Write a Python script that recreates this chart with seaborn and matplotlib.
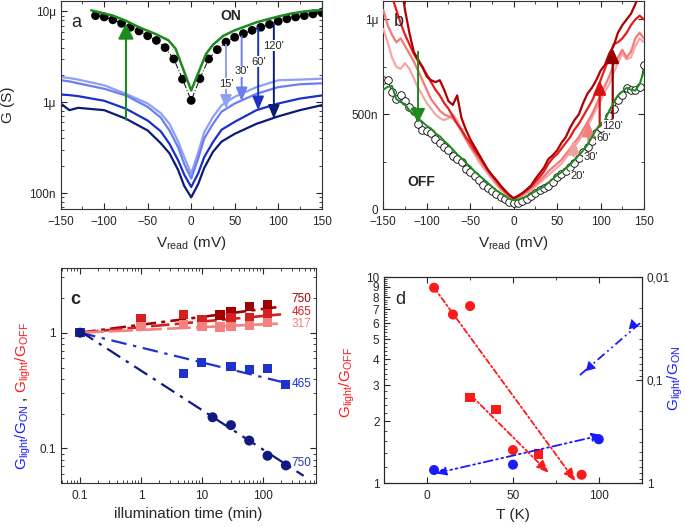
import numpy as np
import matplotlib
matplotlib.use("Agg")
import matplotlib.pyplot as plt
import matplotlib.ticker as mticker
import seaborn as sns

# ---------------- panel a : G(V), log scale, values in uS ----------------
v_on_dots = [-110, -100, -90, -80, -70, -60, -50, -40, -30, -20, -10, 0, 10, 20,
             30, 40, 50, 60, 70, 80, 90, 100, 110, 120, 130, 140, 150]
g_on_dots = [9.0, 8.7, 8.1, 7.4, 6.7, 6.1, 5.4, 4.8, 4.0, 3.0, 1.8, 1.05, 1.82, 3.0,
             3.8, 4.6, 5.2, 5.7, 6.2, 6.7, 7.2, 7.8, 8.3, 8.7, 9.0, 9.4, 9.8]
v_on_line = [-115, -100, -90, -75, -60, -40, -26, -18, 0, 17, 25, 37, 50, 75, 100, 113, 130, 150]
g_on_line = [10.3, 9.5, 9.0, 7.9, 6.7, 5.6, 4.8, 3.9, 1.35, 3.4, 4.3, 5.4, 6.2, 7.6, 8.8, 9.4, 10.0, 10.4]

v_a = [-150, -140, -130, -100, -75, -50, -35, -25, -15, -8, 0, 8, 15, 25, 35, 50, 75, 100, 125, 150]
g_a_15 = [1.9, 1.85, 1.78, 1.54, 1.24, 0.97, 0.76, 0.58, 0.37, 0.25, 0.164, 0.28, 0.47, 0.69, 0.93, 1.15, 1.47, 1.75, 1.78, 1.82]
g_a_30 = [1.75, 1.7, 1.62, 1.41, 1.19, 0.89, 0.68, 0.49, 0.32, 0.21, 0.145, 0.24, 0.40, 0.58, 0.79, 0.97, 1.24, 1.47, 1.58, 1.62]
g_a_60 = [1.22, 1.2, 1.17, 1.04, 0.85, 0.63, 0.48, 0.35, 0.23, 0.16, 0.117, 0.165, 0.25, 0.365, 0.50, 0.61, 0.82, 0.97, 1.1, 1.19]
g_a_120 = [0.97, 0.82, 0.87, 0.82, 0.66, 0.49, 0.355, 0.275, 0.18, 0.12, 0.090, 0.126, 0.19, 0.285, 0.37, 0.45, 0.58, 0.70, 0.82, 0.93]
a_times = ["15'", "30'", "60'", "120'"]
a_arrow_v = [40, 58, 77, 95]
a_arrow_from = [4.3, 5.3, 6.6, 7.3]
a_arrow_to = [0.85, 1.03, 0.82, 0.66]
a_label_g = [1.6, 2.2, 2.8, 4.2]

# ---------------- panel b : G(V), linear scale, values in uS ----------------
v_b = list(range(-150, 155, 5))
g_b_off = [0.68, 0.68, 0.62, 0.58, 0.60, 0.57, 0.54, 0.52, 0.45, 0.42,
           0.41, 0.40, 0.37, 0.35, 0.33, 0.31, 0.28, 0.265, 0.25, 0.21,
           0.195, 0.175, 0.155, 0.13, 0.11, 0.095, 0.078, 0.065, 0.052, 0.04,
           0.032,
           0.033, 0.042, 0.055, 0.072, 0.088, 0.10, 0.112, 0.125, 0.145, 0.17,
           0.185, 0.20, 0.222, 0.245, 0.27, 0.30, 0.33, 0.36, 0.40, 0.43,
           0.45, 0.49, 0.53, 0.575, 0.60, 0.64, 0.63, 0.63, 0.645, 0.76]
g_b_green = [0.63, 0.645, 0.65, 0.58, 0.565, 0.555, 0.52, 0.50, 0.48, 0.46,
             0.44, 0.425, 0.40, 0.385, 0.36, 0.34, 0.315, 0.29, 0.27, 0.245,
             0.225, 0.20, 0.18, 0.16, 0.14, 0.12, 0.10, 0.085, 0.07, 0.055,
             0.048,
             0.05, 0.058, 0.068, 0.082, 0.095, 0.108, 0.12, 0.14, 0.16, 0.18,
             0.195, 0.215, 0.235, 0.26, 0.285, 0.31, 0.34, 0.38, 0.42, 0.45,
             0.47, 0.52, 0.56, 0.60, 0.62, 0.64, 0.63, 0.625, 0.66, 0.73]
g_b_20 = [0.95, 0.88, 0.80, 0.75, 0.74, 0.77, 0.74, 0.69, 0.64, 0.60,
          0.56, 0.53, 0.50, 0.48, 0.47, 0.48, 0.50, 0.47, 0.42, 0.37,
          0.33, 0.29, 0.25, 0.22, 0.19, 0.16, 0.13, 0.105, 0.085, 0.065,
          0.05,
          0.058, 0.07, 0.085, 0.10, 0.12, 0.14, 0.16, 0.18, 0.20, 0.22,
          0.24, 0.27, 0.30, 0.33, 0.36, 0.40, 0.44, 0.48, 0.53, 0.57,
          0.62, 0.66, 0.72, 0.77, 0.82, 0.79, 0.80, 0.86, 0.90, 0.88]
g_b_30 = [1.05, 0.97, 0.92, 0.88, 0.90, 0.86, 0.82, 0.78, 0.73, 0.68,
          0.63, 0.58, 0.55, 0.52, 0.50, 0.49, 0.48, 0.45, 0.41, 0.37,
          0.33, 0.30, 0.27, 0.23, 0.20, 0.17, 0.14, 0.11, 0.09, 0.07,
          0.055,
          0.062, 0.075, 0.09, 0.11, 0.13, 0.15, 0.175, 0.20, 0.22, 0.24,
          0.26, 0.29, 0.32, 0.35, 0.38, 0.42, 0.46, 0.50, 0.55, 0.60,
          0.65, 0.70, 0.76, 0.80, 0.84, 0.80, 0.83, 0.90, 0.93, 0.90]
g_b_60 = [1.30, 1.20, 1.12, 1.05, 0.98, 0.92, 0.87, 0.82, 0.78, 0.75,
          0.71, 0.67, 0.63, 0.60, 0.56, 0.53, 0.49, 0.45, 0.42, 0.38,
          0.35, 0.31, 0.28, 0.245, 0.21, 0.18, 0.15, 0.12, 0.095, 0.075,
          0.058,
          0.07, 0.085, 0.10, 0.12, 0.145, 0.17, 0.20, 0.24, 0.27, 0.29,
          0.32, 0.35, 0.38, 0.42, 0.45, 0.49, 0.53, 0.57, 0.62, 0.68,
          0.74, 0.80, 0.87, 0.88, 0.90, 0.93, 0.97, 1.00, 1.02, 1.00]
g_b_120 = [1.60, 1.50, 1.40, 1.30, 1.20, 1.05, 0.93, 0.83, 0.79, 0.75,
           0.70, 0.68, 0.67, 0.68, 0.63, 0.57, 0.55, 0.60, 0.48, 0.42,
           0.37, 0.33, 0.29, 0.25, 0.21, 0.18, 0.155, 0.125, 0.10, 0.075,
           0.058,
           0.07, 0.085, 0.105, 0.125, 0.16, 0.19, 0.22, 0.265, 0.285, 0.31,
           0.35, 0.38, 0.43, 0.47, 0.50, 0.56, 0.61, 0.64, 0.68, 0.73,
           0.76, 0.82, 0.86, 0.93, 0.97, 1.00, 1.03, 1.08, 1.15, 1.20]
b_times = ["20'", "30'", "60'", "120'"]
b_arrow_v = [69, 86, 99, 114]
b_arrow_from = [0.277, 0.347, 0.435, 0.479]
b_arrow_to = [0.365, 0.461, 0.68, 0.847]
b_label_v = [65, 80, 95, 102]
b_label_g = [0.175, 0.275, 0.375, 0.44]

# ---------------- panel c : ratio vs illumination time ----------------
t_r750 = [20, 30, 60, 120]
r_r750 = [1.42, 1.53, 1.68, 1.73]
t_r465 = [1, 5, 10, 30, 60, 120]
r_r465 = [1.33, 1.44, 1.30, 1.35, 1.35, 1.47]
t_r317 = [0.1, 1, 5, 10, 20, 30, 60, 120]
r_r317 = [1.0, 1.13, 1.18, 1.13, 1.12, 1.13, 1.15, 1.22]
t_b465 = [0.1, 5, 10, 30, 60, 120, 240]
r_b465 = [1.0, 0.446, 0.55, 0.51, 0.48, 0.49, 0.358]
t_b750 = [0.1, 15, 30, 60, 120, 240]
r_b750 = [1.0, 0.186, 0.159, 0.117, 0.0865, 0.0714]
fit_t = [0.1, 200]
fit_r750 = [1.0, 1.68]
fit_r465 = [1.0, 1.44]
fit_r317 = [1.0, 1.20]
fit_b465 = [1.0, 0.377]
fit_t_b750 = [0.1, 470]
fit_b750 = [1.03, 0.058]

# ---------------- panel d : ratio vs temperature ----------------
T_red_circ = [4, 15, 25, 50, 90]
v_red_circ = [8.9, 6.6, 7.25, 1.45, 1.10]
T_red_sq = [25, 40, 65]
v_red_sq = [2.61, 2.28, 1.39]
T_blue_circ = [4, 50, 100]
v_blue_circ = [0.743, 0.659, 0.374]
T_blue_tri = [95, 120]
v_blue_tri = [0.0738, 0.029]
T_tri_line = [89, 125]
v_tri_line = [0.089, 0.027]

# ---------------- style ----------------
sns.set_style("ticks")
plt.rcParams["font.family"] = ["Liberation Sans", "DejaVu Sans"]
plt.rcParams["mathtext.fontset"] = "custom"
plt.rcParams["mathtext.rm"] = "Liberation Sans"
plt.rcParams["mathtext.it"] = "Liberation Sans:italic"
plt.rcParams["mathtext.bf"] = "Liberation Sans:bold"
plt.rcParams["font.size"] = 8.5

green = "#1e8a1e"
blues_a = ["#8fa0f2", "#6a7ff0", "#1a30c8", "#0c1a78"]
reds_b = ["#f5a6a6", "#f27a7a", "#e81c1c", "#b00000"]
reds_b_arrow = ["#f5a0a0", "#f08080", "#d81010", "#900000"]
red_d = "#ff1a1a"
blue_d = "#1a1aff"

fig = plt.figure(figsize=(6.85, 5.27), dpi=100)
W, H = 685.0, 527.0


def box(l, t, r, b):
    return [l / W, 1 - b / H, (r - l) / W, (b - t) / H]


def frame(ax, right=True):
    ax.tick_params(which="both", direction="in", top=True, right=right, labelsize=8.5)
    ax.tick_params(which="major", length=4, width=0.8)
    ax.tick_params(which="minor", length=2, width=0.6)
    ax.tick_params(axis="x", pad=5)
    for s in ax.spines.values():
        s.set_visible(True)
        s.set_linewidth(0.8)
        s.set_color("#333333")


def arrow(ax, x0, y0, x1, y1, color, lw=1.4, hl=0.95, hw=0.4, ls="-", style="-|>"):
    ax.annotate("", xy=(x1, y1), xytext=(x0, y0),
                arrowprops=dict(arrowstyle=f"{style},head_length={hl},head_width={hw}",
                                color=color, lw=lw, linestyle=ls,
                                shrinkA=0, shrinkB=0))


# ================= panel a =================
axa = fig.add_axes(box(60.7, 0.5, 321.7, 209))
for g, c in zip([g_a_15, g_a_30, g_a_60, g_a_120], blues_a):
    sns.lineplot(x=v_a, y=np.array(g) * 1e-6, ax=axa, color=c, lw=1.6)
sns.lineplot(x=v_on_dots, y=np.array(g_on_dots) * 1e-6, ax=axa, color="black",
             lw=0.7, linestyle=(0, (6, 2, 1, 2)))
sns.scatterplot(x=v_on_dots, y=np.array(g_on_dots) * 1e-6, ax=axa, color="black",
                s=40, edgecolor="none", zorder=3)
sns.lineplot(x=v_on_line, y=np.array(g_on_line) * 1e-6, ax=axa, color=green, lw=1.8, zorder=4)
arrow(axa, -75, 0.645e-6, -75, 7.4e-6, green, lw=1.5, hl=1.1, hw=0.55)
for vv, g0, g1, c, lab, gl in zip(a_arrow_v, a_arrow_from, a_arrow_to, blues_a, a_times, a_label_g):
    arrow(axa, vv, g0 * 1e-6, vv, g1 * 1e-6, c)
    axa.text(vv, gl * 1e-6, lab, ha="center", va="center", fontsize=8,
             bbox=dict(facecolor="white", edgecolor="none", pad=0.3), zorder=5)
axa.set_yscale("log")
axa.set_xlim(-150, 150)
axa.set_ylim(6.7e-8, 1.32e-5)
axa.yaxis.set_major_locator(mticker.FixedLocator([1e-7, 1e-6, 1e-5]))
axa.yaxis.set_major_formatter(mticker.FixedFormatter(["100n", "1\u03bc", "10\u03bc"]))
axa.yaxis.set_minor_locator(mticker.LogLocator(subs=np.arange(2, 10)))
axa.yaxis.set_minor_formatter(mticker.NullFormatter())
axa.xaxis.set_major_locator(mticker.MultipleLocator(50))
axa.xaxis.set_minor_locator(mticker.MultipleLocator(25))
frame(axa)
axa.set_xlabel(r"V$_{\rm read}$ (mV)", fontsize=11, labelpad=4)
axa.set_ylabel("G (S)", fontsize=11)
axa.yaxis.set_label_coords(-0.175, 0.5)
axa.text(-132, 7.6e-6, "a", fontsize=13, ha="center", va="center")
axa.text(45, 9.0e-6, "ON", fontsize=10, fontweight="bold", ha="center", va="center")

# ================= panel b =================
axb = fig.add_axes(box(383.3, 0.5, 644, 209.3))
sns.lineplot(x=v_b, y=np.array(g_b_off) * 1e-6, ax=axb, color="black", lw=0.6)
sns.scatterplot(x=v_b, y=np.array(g_b_off) * 1e-6, ax=axb, facecolor="white",
                edgecolor="black", linewidth=0.6, s=30, zorder=2)
for g, c in zip([g_b_20, g_b_30, g_b_60, g_b_120], reds_b):
    sns.lineplot(x=v_b, y=np.array(g) * 1e-6, ax=axb, color=c, lw=1.6, zorder=3)
sns.lineplot(x=v_b, y=np.array(g_b_green) * 1e-6, ax=axb, color=green, lw=1.4, zorder=4)
arrow(axb, -110, 0.83e-6, -110, 0.455e-6, green, lw=1.4, hl=1.0, hw=0.5)
for vv, g0, g1, c in zip(b_arrow_v, b_arrow_from, b_arrow_to, reds_b_arrow):
    arrow(axb, vv, g0 * 1e-6, vv, g1 * 1e-6, c, lw=1.6, hl=1.0, hw=0.45)
for lab, vl, gl in zip(b_times, b_label_v, b_label_g):
    axb.text(vl, gl * 1e-6, lab, ha="left", va="center", fontsize=8,
             bbox=dict(facecolor="white", edgecolor="none", pad=0.2), zorder=5)
axb.set_xlim(-150, 150)
axb.set_ylim(0, 1.1e-6)
axb.yaxis.set_major_locator(mticker.FixedLocator([0, 5e-7, 1e-6]))
axb.yaxis.set_major_formatter(mticker.FixedFormatter(["0", "500n", "1\u03bc"]))
axb.yaxis.set_minor_locator(mticker.MultipleLocator(2.5e-7))
axb.xaxis.set_major_locator(mticker.MultipleLocator(50))
axb.xaxis.set_minor_locator(mticker.MultipleLocator(25))
frame(axb)
axb.set_xlabel(r"V$_{\rm read}$ (mV)", fontsize=11, labelpad=4)
axb.set_ylabel("")
axb.text(-131.6, 0.99e-6, "b", fontsize=13, ha="center", va="center")
axb.text(-106, 0.145e-6, "OFF", fontsize=10, fontweight="bold", ha="center", va="center")

# ================= panel c =================
axc = fig.add_axes(box(60.7, 268.3, 316, 482.7))
c_r = ["#a00000", "#d42020", "#f58080"]
for ft, fr, c, ls in [(fit_t, fit_r750, c_r[0], (0, (6, 2, 1.5, 2))),
                      (fit_t, fit_r465, c_r[1], (0, (7, 2))),
                      (fit_t, fit_r317, c_r[2], (0, (9, 2)))]:
    sns.lineplot(x=ft, y=fr, ax=axc, color=c, lw=1.9, linestyle=ls)
for tt, rr, c in [(t_r750, r_r750, c_r[0]), (t_r465, r_r465, c_r[1]), (t_r317, r_r317, c_r[2])]:
    sns.scatterplot(x=tt, y=rr, ax=axc, color=c, marker="s", s=46, edgecolor="none", zorder=3)
sns.lineplot(x=fit_t, y=fit_b465, ax=axc, color="#1e32d0", lw=1.6, linestyle=(0, (7, 3, 1.5, 3)))
sns.lineplot(x=fit_t_b750, y=fit_b750, ax=axc, color="#101a80", lw=1.6, linestyle=(0, (7, 3, 1.5, 3)))
sns.scatterplot(x=t_b465, y=r_b465, ax=axc, color="#1e32d0", marker="s", s=44, edgecolor="none", zorder=3)
sns.scatterplot(x=t_b750, y=r_b750, ax=axc, color="#101a80", marker="o", s=52, edgecolor="none", zorder=3)
axc.set_xscale("log")
axc.set_yscale("log")
axc.set_xlim(0.048, 750)
axc.set_ylim(0.0506, 3.6)
axc.xaxis.set_major_locator(mticker.FixedLocator([0.1, 1, 10, 100]))
axc.xaxis.set_major_formatter(mticker.FixedFormatter(["0.1", "1", "10", "100"]))
axc.xaxis.set_minor_locator(mticker.LogLocator(subs=np.arange(2, 10)))
axc.xaxis.set_minor_formatter(mticker.NullFormatter())
axc.yaxis.set_major_locator(mticker.FixedLocator([0.1, 1]))
axc.yaxis.set_major_formatter(mticker.FixedFormatter(["0.1", "1"]))
axc.yaxis.set_minor_locator(mticker.LogLocator(subs=np.arange(2, 10)))
axc.yaxis.set_minor_formatter(mticker.NullFormatter())
frame(axc)
axc.set_xlabel("illumination time (min)", fontsize=11, labelpad=4)
axc.text(0.083, 1.92, "c", fontsize=13, fontweight="bold", ha="center", va="center")
for lab, y, c in [("750", 1.95, c_r[0]), ("465", 1.51, c_r[1]), ("317", 1.18, c_r[2]),
                  ("465", 0.36, "#1e32d0"), ("750", 0.075, "#2a3aa8")]:
    axc.text(300, y, lab, color=c, fontsize=8.5, ha="left", va="center")
fig.text(23 / W, 1 - 437 / H, r"$\mathrm{G_{light}/G_{ON}}$", color="#1a1aff",
         rotation=90, ha="center", va="center", fontsize=11)
fig.text(21 / W, 1 - 398 / H, ",", color="black", rotation=90, ha="center",
         va="center", fontsize=11)
fig.text(23 / W, 1 - 357 / H, r"$\mathrm{G_{light}/G_{OFF}}$", color="#ff1a1a",
         rotation=90, ha="center", va="center", fontsize=11)

# ================= panel d =================
axd = fig.add_axes(box(384.3, 277.3, 641.7, 483.3))
axd2 = axd.twinx()
sns.scatterplot(x=T_red_circ, y=v_red_circ, ax=axd, color=red_d, s=52, edgecolor="none", zorder=3)
sns.scatterplot(x=T_red_sq, y=v_red_sq, ax=axd, color=red_d, marker="s", s=46, edgecolor="none", zorder=3)
arrow(axd, 4, 8.9, 86.5, 1.02, red_d, lw=1.3, hl=0.9, hw=0.35, ls=(0, (3, 1.5, 1, 1.5)))
arrow(axd, 26, 2.65, 71, 1.12, red_d, lw=1.3, hl=0.9, hw=0.35, ls=(0, (3, 1.5, 1, 1.5)))
sns.scatterplot(x=T_blue_circ, y=v_blue_circ, ax=axd2, color=blue_d, s=52, edgecolor="none", zorder=3)
arrow(axd2, 5, 0.8, 102, 0.34, blue_d, lw=1.3, hl=0.7, hw=0.3,
      ls=(0, (5, 2, 1, 2, 1, 2)), style="<|-|>")
sns.lineplot(x=T_tri_line, y=v_tri_line, ax=axd2, color=blue_d, lw=1.3,
             linestyle=(0, (5, 2, 1, 2, 1, 2)))
sns.scatterplot(x=T_blue_tri, y=v_blue_tri, ax=axd2, color=blue_d, marker=(3, 0, 135),
                s=80, edgecolor="none", zorder=3)
axd.set_yscale("log")
axd.set_xlim(-25, 125)
axd.set_ylim(1, 10)
axd.yaxis.set_major_locator(mticker.FixedLocator([1, 2, 3, 4, 5, 6, 7, 8, 9, 10]))
axd.yaxis.set_major_formatter(mticker.FixedFormatter(["1", "2", "3", "4", "5", "6", "7", "8", "9", "10"]))
axd.yaxis.set_minor_locator(mticker.MultipleLocator(0.2))
axd.yaxis.set_minor_formatter(mticker.NullFormatter())
axd.xaxis.set_major_locator(mticker.MultipleLocator(50))
axd.xaxis.set_minor_locator(mticker.MultipleLocator(25))
axd2.set_yscale("log")
axd2.set_ylim(1, 0.01)
axd2.yaxis.set_major_locator(mticker.FixedLocator([0.01, 0.1, 1]))
axd2.yaxis.set_major_formatter(mticker.FixedFormatter(["0,01", "0,1", "1"]))
axd2.yaxis.set_minor_locator(mticker.LogLocator(subs=np.arange(2, 10)))
axd2.yaxis.set_minor_formatter(mticker.NullFormatter())
frame(axd, right=False)
axd2.tick_params(which="both", direction="in", right=True, left=False, top=False, labelsize=8.5)
axd2.tick_params(which="major", length=4, width=0.8)
axd2.tick_params(which="minor", length=2, width=0.6)
axd.set_xlabel("T (K)", fontsize=11, labelpad=4)
axd.set_ylabel(r"$\mathrm{G_{light}/G_{OFF}}$", color=red_d, fontsize=11)
axd.yaxis.set_label_coords(-0.105, 0.49)
axd2.set_ylabel(r"$\mathrm{G_{light}/G_{ON}}$", color=blue_d, fontsize=11)
axd2.yaxis.set_label_coords(1.095, 0.51)
axd.text(-15.6, 7.8, "d", fontsize=13, ha="center", va="center")

fig.savefig("out.png", dpi=100)
